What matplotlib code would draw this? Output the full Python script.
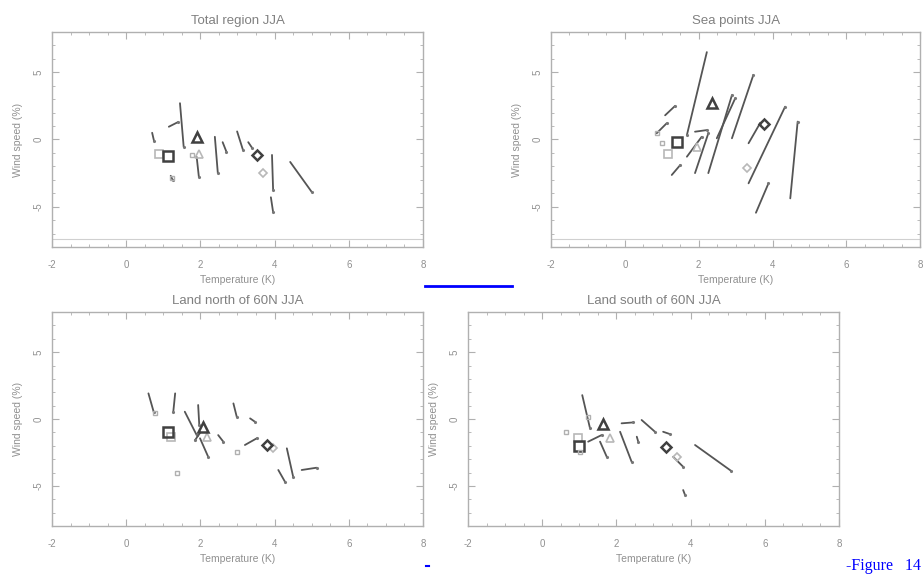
import numpy as np
import matplotlib
matplotlib.use('Agg')
import matplotlib.pyplot as plt
from matplotlib.ticker import MultipleLocator

plt.rcParams['font.family'] = ['Liberation Sans', 'DejaVu Sans']
plt.rcParams['axes.unicode_minus'] = False

titles = ['Total region JJA', 'Sea points JJA', 'Land north of 60N JJA', 'Land south of 60N JJA']

# segments: (T start, wind start, T end, wind end)
total_segs = [(1.45, 2.7, 1.55, -0.55), (0.7, 0.5, 0.75, -0.1), (1.15, 0.95, 1.4, 1.3),
              (1.9, -1.3, 1.96, -2.8), (2.39, 0.2, 2.47, -2.5), (2.6, -0.2, 2.7, -0.9),
              (2.99, 0.6, 3.15, -0.8), (3.29, -0.2, 3.4, -0.65), (3.93, -1.15, 3.96, -3.75),
              (3.9, -4.3, 3.96, -5.4), (4.42, -1.67, 5.0, -3.9), (1.2, -2.7, 1.25, -3.0)]
sea_segs = [(2.22, 6.5, 1.68, 0.33), (1.09, 1.8, 1.36, 2.5), (0.86, 0.46, 1.13, 1.2),
            (1.27, -2.64, 1.5, -1.9), (1.68, -1.28, 2.08, 0.2), (1.9, 0.58, 2.22, 0.7),
            (1.9, -2.5, 2.26, 0.46), (2.26, -2.5, 2.9, 3.3), (2.49, 0.09, 2.99, 3.07),
            (2.9, 0.09, 3.48, 4.8), (3.35, -0.28, 3.66, 1.2), (3.35, -3.26, 4.34, 2.44),
            (3.55, -5.45, 3.89, -3.26), (4.48, -4.38, 4.68, 1.33)]
north_segs = [(0.6, 1.92, 0.74, 0.55), (1.32, 1.92, 1.27, 0.55), (1.58, 0.55, 1.9, -1.2),
              (1.94, 1.05, 1.97, -0.45), (1.99, -1.44, 2.21, -2.82), (2.48, -1.2, 2.62, -1.7),
              (2.89, 1.17, 2.98, 0.17), (3.34, 0.05, 3.47, -0.2), (3.2, -1.94, 3.52, -1.44),
              (4.33, -2.19, 4.5, -4.31), (4.1, -3.81, 4.28, -4.69), (4.73, -3.81, 5.13, -3.64),
              (2.0, -1.0, 1.85, -1.6)]
south_segs = [(1.08, 1.79, 1.29, -0.7), (1.24, -1.69, 1.6, -1.2), (1.56, -1.69, 1.74, -2.82),
              (2.1, -0.95, 2.41, -3.19), (2.14, -0.32, 2.46, -0.25), (2.68, -0.07, 3.04, -0.95),
              (2.55, -1.32, 2.59, -1.7), (3.26, -0.95, 3.44, -1.12), (3.53, -2.82, 3.8, -3.57),
              (3.8, -5.31, 3.85, -5.68), (4.12, -1.94, 5.1, -3.89)]

# bold symbols (square, triangle, diamond) and pale ones
dark_T = [[1.13, 1.9, 3.52], [1.42, 2.36, 3.77], [1.13, 2.08, 3.79], [1.0, 1.65, 3.33]]
dark_W = [[-1.2, 0.2, -1.15], [-0.16, 2.7, 1.15], [-0.95, -0.57, -1.94], [-2.0, -0.4, -2.06]]
pale_T = [[0.88, 1.96, 3.68], [1.18, 1.95, 3.32], [1.22, 2.17, 3.96], [0.97, 1.83, 3.63]]
pale_W = [[-1.08, -1.08, -2.5], [-1.08, -0.53, -2.14], [-1.32, -1.32, -2.19], [-1.44, -1.44, -2.82]]
small_T = [[1.23, 1.77], [1.0, 0.86], [0.78, 1.36, 2.99], [0.64, 1.24, 1.02]]
small_W = [[-2.9, -1.15], [-0.28, 0.46], [0.42, -4.06, -2.44], [-1.0, 0.17, -2.44]]

all_segs = [total_segs, sea_segs, north_segs, south_segs]
marks = ['s', '^', 'D']

# axes rectangles in figure fractions
rects = [(0.0563, 0.5704, 0.402, 0.374), (0.597, 0.5704, 0.400, 0.374),
         (0.0563, 0.0852, 0.402, 0.372), (0.507, 0.0852, 0.402, 0.372)]

fig = plt.figure(figsize=(9.23, 5.75), dpi=100)
axc = '#b0b0b0'
txc = '#909090'

for i in range(4):
    ax = fig.add_axes(rects[i])
    for (x0, y0, x1, y1) in all_segs[i]:
        ax.plot([x0, x1], [y0, y1], color='#555555', lw=1.3, solid_capstyle='round')
        ax.plot([x1], [y1], marker='.', ms=2.5, color='#777777')
    for k in range(3):
        ax.plot(pale_T[i][k], pale_W[i][k], marker=marks[k], ms=5.5 if k != 2 else 4.5,
                mfc='none', mec='#b8b8b8', mew=1.2)
        ax.plot(dark_T[i][k], dark_W[i][k], marker=marks[k], ms=6.5 if k != 2 else 5.5,
                mfc='none', mec='#404040', mew=1.8)
    ax.plot(small_T[i], small_W[i], ls='none', marker='s', ms=3.5, mfc='none',
            mec='#b0b0b0', mew=1.0)
    if i < 2:
        ax.axhline(-7.43, color='#d0d0d0', lw=0.8)

    ax.set_xlim(-2, 8)
    ax.set_ylim(-8, 8)
    ax.xaxis.set_major_locator(MultipleLocator(2))
    ax.xaxis.set_minor_locator(MultipleLocator(0.5))
    ax.yaxis.set_major_locator(MultipleLocator(5))
    ax.yaxis.set_minor_locator(MultipleLocator(1))
    ax.tick_params(which='both', direction='in', top=True, right=True, colors=axc,
                   labelcolor=txc, labelsize=7)
    ax.tick_params(which='major', length=5, width=0.8)
    ax.tick_params(which='minor', length=2.5, width=0.6)
    ax.tick_params(axis='x', pad=9)
    ax.tick_params(axis='y', pad=6, labelrotation=90)
    for lab in ax.get_yticklabels():
        lab.set_va('center')
    for s in ax.spines.values():
        s.set_color(axc)
        s.set_linewidth(1.0)
    ax.set_xlabel('Temperature (K)', color=txc, fontsize=7.5, labelpad=4)
    ax.set_ylabel('Wind speed (%)', color=txc, fontsize=7.5, labelpad=8)
    ax.set_title(titles[i], color='#808080', fontsize=9.5, pad=6)

# page remnants
fig.add_artist(plt.Line2D([425 / 923, 512 / 923], [1 - 286 / 575, 1 - 286 / 575],
                          color='blue', lw=2))
fig.add_artist(plt.Line2D([426 / 923, 429 / 923], [1 - 566 / 575, 1 - 566 / 575],
                          color='blue', lw=1.5))
fig.text(0.998, 1 - 566 / 575, '-Figure   14', color='blue', fontsize=11.5,
         family=['Liberation Serif', 'DejaVu Serif'], ha='right', va='center')

fig.savefig('out.png', dpi=100)
